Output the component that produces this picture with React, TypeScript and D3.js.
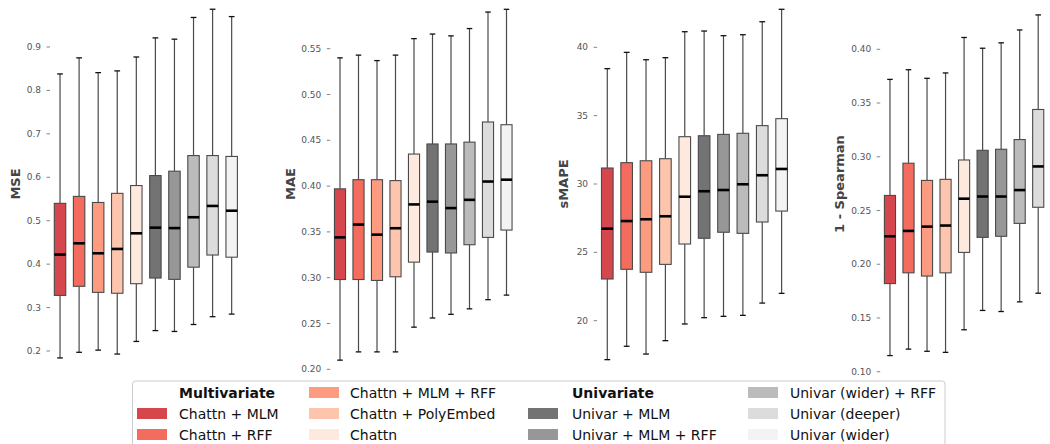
import React from "react";
import * as d3 from "d3";

// ---------- DATA ----------
const categories = [
  "Chattn + MLM",
  "Chattn + RFF",
  "Chattn + MLM + RFF",
  "Chattn + PolyEmbed",
  "Chattn",
  "Univar + MLM",
  "Univar + MLM + RFF",
  "Univar (wider) + RFF",
  "Univar (deeper)",
  "Univar (wider)",
];

const colors = [
  "#d5474d",
  "#f36c5d",
  "#fc9b80",
  "#fdc5ae",
  "#fee9df",
  "#737373",
  "#979797",
  "#bbbbbb",
  "#dcdcdc",
  "#f3f3f3",
];

// [whisker low, Q1, median, Q3, whisker high]
const mseStats = [
  [0.184, 0.328, 0.422, 0.54, 0.838],
  [0.197, 0.349, 0.448, 0.556, 0.875],
  [0.202, 0.335, 0.425, 0.542, 0.841],
  [0.193, 0.333, 0.435, 0.563, 0.845],
  [0.222, 0.355, 0.471, 0.581, 0.877],
  [0.247, 0.368, 0.484, 0.604, 0.921],
  [0.245, 0.365, 0.483, 0.614, 0.918],
  [0.261, 0.393, 0.508, 0.65, 0.968],
  [0.279, 0.421, 0.534, 0.65, 0.987],
  [0.285, 0.416, 0.523, 0.648, 0.97],
];

const maeStats = [
  [0.21, 0.298, 0.344, 0.397, 0.54],
  [0.219, 0.298, 0.358, 0.407, 0.543],
  [0.219, 0.297, 0.347, 0.407, 0.537],
  [0.219, 0.301, 0.354, 0.406, 0.543],
  [0.246, 0.317, 0.38, 0.435, 0.561],
  [0.256, 0.328, 0.383, 0.446, 0.566],
  [0.26, 0.327, 0.376, 0.446, 0.564],
  [0.266, 0.336, 0.385, 0.448, 0.572],
  [0.276, 0.344, 0.405, 0.47, 0.59],
  [0.281, 0.352, 0.407, 0.467, 0.593],
];

const smapeStats = [
  [17.15, 23.05, 26.73, 31.17, 38.44],
  [18.13, 23.76, 27.29, 31.56, 39.63],
  [17.56, 23.54, 27.42, 31.7, 39.09],
  [18.54, 24.12, 27.64, 31.85, 39.24],
  [19.76, 25.61, 29.07, 33.46, 41.14],
  [20.22, 26.03, 29.47, 33.53, 41.19],
  [20.32, 26.47, 29.56, 33.63, 40.85],
  [20.39, 26.39, 29.98, 33.71, 40.92],
  [21.29, 27.22, 30.64, 34.27, 41.87],
  [22.0, 28.02, 31.1, 34.78, 42.78],
];

// the 10th box of this panel lies outside the visible picture
const spearmanStats = [
  [0.115, 0.182, 0.226, 0.264, 0.372],
  [0.121, 0.192, 0.231, 0.294, 0.381],
  [0.119, 0.189, 0.235, 0.278, 0.373],
  [0.118, 0.192, 0.236, 0.279, 0.378],
  [0.139, 0.211, 0.261, 0.297, 0.411],
  [0.157, 0.225, 0.263, 0.306, 0.401],
  [0.156, 0.226, 0.263, 0.307, 0.406],
  [0.165, 0.238, 0.269, 0.316, 0.418],
  [0.173, 0.253, 0.291, 0.344, 0.432],
];

const mseTicks = [0.2, 0.3, 0.4, 0.5, 0.6, 0.7, 0.8, 0.9];
const maeTicks = [0.2, 0.25, 0.3, 0.35, 0.4, 0.45, 0.5, 0.55];
const smapeTicks = [20, 25, 30, 35, 40];
const spearmanTicks = [0.1, 0.15, 0.2, 0.25, 0.3, 0.35, 0.4];

const legendColumns = [
  { title: "Multivariate", items: [0, 1] },
  { title: null, items: [2, 3, 4] },
  { title: "Univariate", items: [5, 6] },
  { title: null, items: [7, 8, 9] },
];

// ---------- LAYOUT ----------
const W = 1050;
const H = 444;
const FONT = "DejaVu Sans, Liberation Sans, sans-serif";

const panels = [
  {
    label: "MSE",
    stats: mseStats,
    ticks: mseTicks,
    fmt: d3.format(".1f"),
    dom: [0.2, 0.9],
    rng: [351, 47],
    left: 50.5,
    width: 190.7,
    labelX: 15,
  },
  {
    label: "MAE",
    stats: maeStats,
    ticks: maeTicks,
    fmt: d3.format(".2f"),
    dom: [0.2, 0.55],
    rng: [369.3, 48.7],
    left: 330.75,
    width: 185,
    labelX: 290,
  },
  {
    label: "sMAPE",
    stats: smapeStats,
    ticks: smapeTicks,
    fmt: d3.format("d"),
    dom: [20, 40],
    rng: [320.7, 47.3],
    left: 597.6,
    width: 193.7,
    labelX: 563,
  },
  {
    label: "1 - Spearman",
    stats: spearmanStats,
    ticks: spearmanTicks,
    fmt: d3.format(".2f"),
    dom: [0.1, 0.4],
    rng: [371.7, 49.3],
    left: 880.7,
    width: 185.3,
    labelX: 839,
  },
];

function Panel({ p }: { p: (typeof panels)[number] }) {
  const x = d3
    .scaleBand<number>()
    .domain(d3.range(categories.length))
    .range([p.left, p.left + p.width])
    .padding(0);
  const y = d3.scaleLinear().domain(p.dom).range(p.rng);
  const bw = x.bandwidth();
  const boxW = bw * 0.6;
  const capW = boxW * 0.5;
  const edge = "#4a4a4a";
  return (
    <g>
      {p.ticks.map((t) => (
        <g key={t}>
          <line
            x1={p.left - 4}
            x2={p.left - 0.5}
            y1={y(t)}
            y2={y(t)}
            stroke="#777"
            strokeWidth={0.9}
          />
          <text
            x={p.left - 9.5}
            y={y(t)}
            dy="0.34em"
            textAnchor="end"
            fontSize={9}
            fill="#555"
            fontFamily={FONT}
          >
            {p.fmt(t)}
          </text>
        </g>
      ))}
      <text
        transform={`translate(${p.labelX},184) rotate(-90)`}
        textAnchor="middle"
        dy="0.35em"
        fontSize={13}
        fontWeight="bold"
        fill="#444"
        fontFamily={FONT}
      >
        {p.label}
      </text>
      {p.stats.map((s, i) => {
        const cx = (x(i) as number) + bw / 2;
        const [lo, q1, med, q3, hi] = s;
        return (
          <g key={i}>
            <line x1={cx} x2={cx} y1={y(hi)} y2={y(q3)} stroke={edge} strokeWidth={1.2} />
            <line x1={cx} x2={cx} y1={y(q1)} y2={y(lo)} stroke={edge} strokeWidth={1.2} />
            <line x1={cx - capW / 2} x2={cx + capW / 2} y1={y(hi)} y2={y(hi)} stroke="#111" strokeWidth={1.3} />
            <line x1={cx - capW / 2} x2={cx + capW / 2} y1={y(lo)} y2={y(lo)} stroke="#111" strokeWidth={1.3} />
            <rect
              x={cx - boxW / 2}
              y={y(q3)}
              width={boxW}
              height={y(q1) - y(q3)}
              fill={colors[i]}
              stroke={edge}
              strokeWidth={1.1}
            />
            <line
              x1={cx - boxW / 2}
              x2={cx + boxW / 2}
              y1={y(med)}
              y2={y(med)}
              stroke="#000"
              strokeWidth={2.6}
            />
          </g>
        );
      })}
    </g>
  );
}

const legendCols = [
  { handleX: 137, textX: 179 },
  { handleX: 309, textX: 350 },
  { handleX: 528, textX: 572 },
  { handleX: 748, textX: 790 },
];
const legendRowY = [392.5, 413.5, 434.5];

function Legend() {
  return (
    <g>
      <rect
        x={132.5}
        y={381}
        width={812.5}
        height={90}
        rx={3}
        fill="#fff"
        fillOpacity={0.85}
        stroke="#cccccc"
        strokeWidth={1}
      />
      {legendColumns.map((col, ci) => {
        const rows: { title?: string; idx?: number }[] = [];
        if (col.title) rows.push({ title: col.title });
        col.items.forEach((idx) => rows.push({ idx }));
        const lc = legendCols[ci];
        return rows.map((r, ri) => {
          const yc = legendRowY[ri];
          if (r.title)
            return (
              <text
                key={`t${ci}`}
                x={lc.textX}
                y={yc}
                dy="0.36em"
                fontSize={14}
                fontWeight="bold"
                fill="#111"
                fontFamily={FONT}
              >
                {r.title}
              </text>
            );
          const idx = r.idx as number;
          return (
            <g key={`i${idx}`}>
              <rect x={lc.handleX} y={yc - 5.5} width={30} height={11} fill={colors[idx]} />
              <text x={lc.textX} y={yc} dy="0.36em" fontSize={14} fill="#111" fontFamily={FONT}>
                {categories[idx]}
              </text>
            </g>
          );
        });
      })}
    </g>
  );
}

export default function App() {
  return (
    <svg
      width={W}
      height={H}
      viewBox={`0 0 ${W} ${H}`}
      style={{ position: "absolute", left: 0, top: 0, background: "#fff" }}
    >
      <rect x={0} y={0} width={W} height={H} fill="#fff" />
      {panels.map((p) => (
        <Panel key={p.label} p={p} />
      ))}
      <Legend />
    </svg>
  );
}
